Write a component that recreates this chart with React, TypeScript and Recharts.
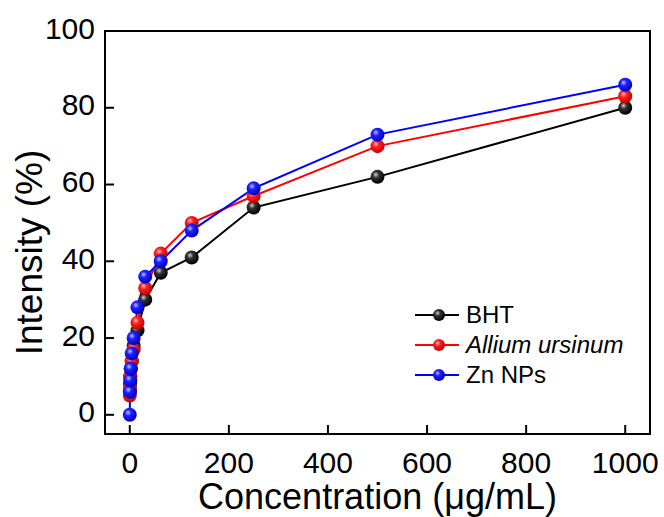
import React from "react";
import { LineChart, Line, XAxis, YAxis, ReferenceArea } from "recharts";

const concentrations = [0, 0.49, 0.98, 1.95, 3.9, 7.8, 15.6, 31.25, 62.5, 125, 250, 500, 1000];
const bhtValues = [6, 8, 10, 12, 14, 18, 22, 30, 37, 41, 54, 62, 80];
const alliumValues = [5, 7, 10, 12, 14, 17, 24, 33, 42, 50, 57, 70, 83];
const znValues = [0, 6, 9, 12, 16, 20, 28, 36, 40, 48, 59, 73, 86];

const xTicks = [0, 200, 400, 600, 800, 1000];
const yTicks = [0, 20, 40, 60, 80, 100];

const SERIES = [
  { key: "bht", name: "BHT", color: "#000000", grad: "g-black", italic: false },
  { key: "allium", name: "Allium ursinum", color: "#ff0000", grad: "g-red", italic: true },
  { key: "zn", name: "Zn NPs", color: "#0000ff", grad: "g-blue", italic: false },
];

const FONT = "'Liberation Sans', Arial, Helvetica, sans-serif";

const data = concentrations.map((c, i) => ({
  conc: c,
  bht: bhtValues[i],
  allium: alliumValues[i],
  zn: znValues[i],
}));

function makeDot(grad: string) {
  return (props: any) => {
    const { cx, cy, index } = props;
    if (cx == null || cy == null) return <g key={index} />;
    return <circle key={index} cx={cx} cy={cy} r={7} fill={`url(#${grad})`} />;
  };
}

// legend drawn as plain html on top of the chart, so it does not eat plot space
function ChartLegend() {
  return (
    <div
      style={{
        position: "absolute",
        left: 413,
        top: 300,
        fontFamily: FONT,
        fontSize: 24,
        color: "#000",
      }}
    >
      {SERIES.map((s) => (
        <div key={s.key} style={{ display: "flex", alignItems: "center", height: 30 }}>
          <svg width={53} height={18} style={{ display: "block" }}>
            <line x1={2} y1={9} x2={46} y2={9} stroke={s.color} strokeWidth={2} />
            <circle cx={26} cy={9} r={6} fill={`url(#${s.grad})`} />
          </svg>
          <span style={{ fontStyle: s.italic ? "italic" : "normal", lineHeight: "30px" }}>{s.name}</span>
        </div>
      ))}
    </div>
  );
}

export default function App() {
  return (
    <div style={{ position: "absolute", left: 0, top: 0, width: 664, height: 517, background: "#fff" }}>
      <LineChart
        width={664}
        height={517}
        data={data}
        margin={{ top: 31, right: 14, bottom: 0, left: 0 }}
        style={{ fontFamily: FONT }}
      >
        <defs>
          <radialGradient id="g-black" cx="38%" cy="35%" r="65%">
            <stop offset="0%" stopColor="#d0d0d0" />
            <stop offset="35%" stopColor="#333333" />
            <stop offset="100%" stopColor="#000000" />
          </radialGradient>
          <radialGradient id="g-red" cx="38%" cy="35%" r="65%">
            <stop offset="0%" stopColor="#ffc0c0" />
            <stop offset="35%" stopColor="#ff2020" />
            <stop offset="100%" stopColor="#c00000" />
          </radialGradient>
          <radialGradient id="g-blue" cx="38%" cy="35%" r="65%">
            <stop offset="0%" stopColor="#c0c0ff" />
            <stop offset="35%" stopColor="#2020ff" />
            <stop offset="100%" stopColor="#0000c0" />
          </radialGradient>
        </defs>
        <XAxis
          dataKey="conc"
          type="number"
          domain={[-50, 1050]}
          ticks={xTicks}
          allowDataOverflow
          height={83}
          tickSize={-9}
          tickMargin={27}
          axisLine={{ stroke: "#000", strokeWidth: 2 }}
          tickLine={{ stroke: "#000", strokeWidth: 2 }}
          tick={{ fill: "#000", fontSize: 30, fontFamily: FONT }}
          label={{
            value: "Concentration (\u03bcg/mL)",
            position: "center",
            dy: 21,
            style: { fill: "#000", fontSize: 36, fontFamily: FONT },
          }}
        />
        <YAxis
          type="number"
          domain={[-5, 100]}
          ticks={yTicks}
          allowDataOverflow
          width={105}
          tickSize={-9}
          tickMargin={19}
          axisLine={{ stroke: "#000", strokeWidth: 2 }}
          tickLine={{ stroke: "#000", strokeWidth: 2 }}
          tick={{ fill: "#000", fontSize: 30, fontFamily: FONT, dy: -3 }}
          label={{
            value: "Intensity (%)",
            angle: -90,
            position: "center",
            dx: -24,
            dy: 20,
            style: { fill: "#000", fontSize: 37, fontFamily: FONT },
          }}
        />
        <ReferenceArea
          x1={-50}
          x2={1050}
          y1={-5}
          y2={100}
          fill="none"
          stroke="#000"
          strokeWidth={2}
          fillOpacity={0}
          ifOverflow="visible"
        />
        {SERIES.map((s) => (
          <Line
            key={s.key}
            dataKey={s.key}
            name={s.name}
            stroke={s.color}
            strokeWidth={2}
            dot={makeDot(s.grad)}
            activeDot={false}
            isAnimationActive={false}
          />
        ))}
      </LineChart>
      <ChartLegend />
    </div>
  );
}
